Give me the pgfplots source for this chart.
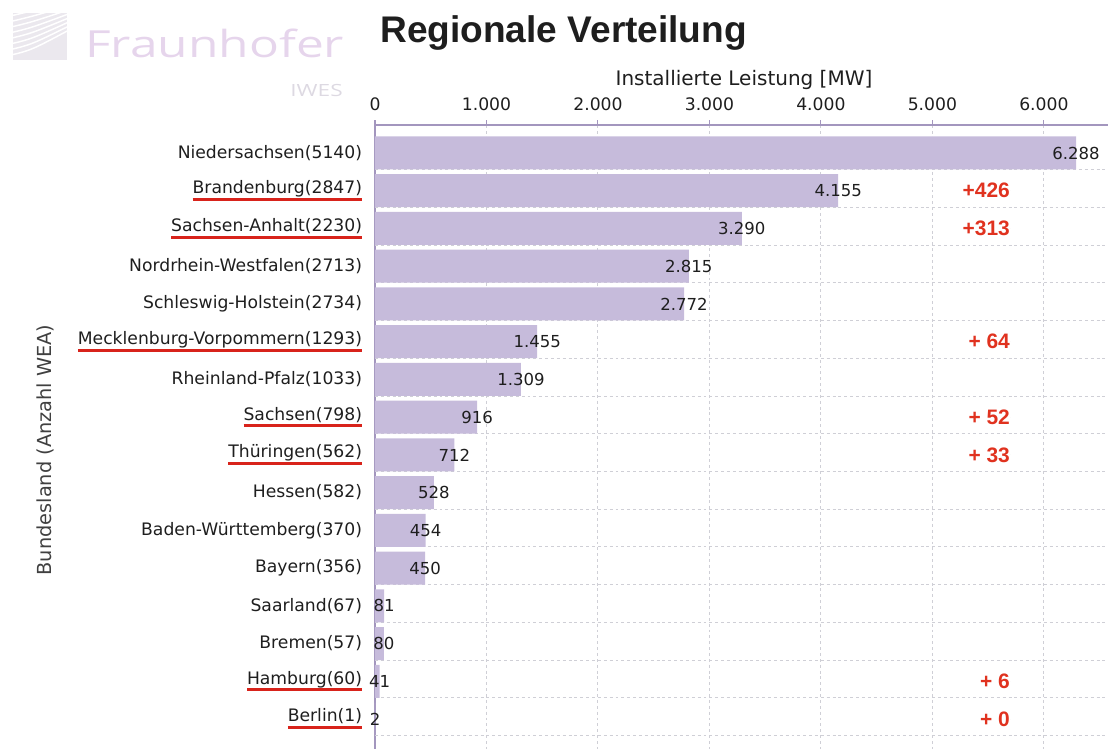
\documentclass[border=0pt]{standalone}
\usepackage{pgfplots}
\usepackage{pgfplotstable}
\pgfplotsset{compat=1.18}
\usepackage{fontspec}
\setmainfont{DejaVu Sans}
\newfontfamily\arial{Liberation Sans}
\newfontfamily\logofont{Open Sans}
\definecolor{barc}{HTML}{C6BBDB}
\definecolor{axc}{HTML}{A396BE}
\definecolor{gridc}{HTML}{CFCFD6}
\definecolor{txt}{HTML}{1E1E1E}
\definecolor{annred}{HTML}{E0321F}
\definecolor{ulred}{HTML}{D8231B}
\definecolor{logoc}{HTML}{E6D5EC}
\definecolor{logog}{HTML}{DDD9E2}
\pgfkeys{/pgf/number format/.cd, 1000 sep={.}, assume math mode=true}
\newsavebox\ulbox
\newcommand\rul[1]{\leavevmode\sbox\ulbox{#1}\rlap{\color{ulred}\rule[-5.4pt]{\wd\ulbox}{2.2pt}}\usebox\ulbox}
\newcommand\catfont{\fontsize{12.9}{14}\selectfont}
\newcommand\valfont{\fontsize{12.4}{14}\selectfont}
\newcommand\annfont{\arial\bfseries\fontsize{15.7}{17}\selectfont}
\pgfplotstableread{
idx val
0 6288
1 4155
2 3290
3 2815
4 2772
5 1455
6 1309
7 916
8 712
9 528
10 454
11 450
12 81
13 80
14 41
15 2
}\datatable
\begin{document}
\begin{tikzpicture}
\path[use as bounding box] (-281.25pt,0) rectangle (549.75pt,561.75pt);
\begin{axis}[
  at={(0,0)}, anchor=south west,
  width=549.75pt, height=468pt, scale only axis,
  xmin=0, xmax=6575, ymin=-0.742, ymax=15.795, y dir=reverse,
  axis x line*=top, axis y line*=left,
  x axis line style={draw=axc, line width=1pt},
  y axis line style={draw=axc, line width=1.6pt},
  xtick={0,1000,...,6000},
  xtick style={draw=axc, line width=0.8pt},
  tick align=outside, major tick length=3.5pt,
  xticklabel style={font=\catfont, text=txt, inner sep=0pt, anchor=south, yshift=7pt},
  ytick={0,...,15},
  ytick style={draw=none},
  yticklabel style={font=\catfont, text=txt, inner sep=0pt, anchor=east, xshift=-6pt},
  yticklabels={
    {Niedersachsen(5140)},
    {\rul{Brandenburg(2847)}},
    {\rul{Sachsen-Anhalt(2230)}},
    {Nordrhein-Westfalen(2713)},
    {Schleswig-Holstein(2734)},
    {\rul{Mecklenburg-Vorpommern(1293)}},
    {Rheinland-Pfalz(1033)},
    {\rul{Sachsen(798)}},
    {\rul{Thüringen(562)}},
    {Hessen(582)},
    {Baden-Württemberg(370)},
    {Bayern(356)},
    {Saarland(67)},
    {Bremen(57)},
    {\rul{Hamburg(60)}},
    {\rul{Berlin(1)}}
  },
  xmajorgrids,
  grid style={draw=gridc, line width=0.7pt, dash pattern=on 2.2pt off 2.2pt},
  extra y ticks={0.44,1.44,2.44,3.44,4.44,5.44,6.44,7.44,8.44,9.44,10.44,11.44,12.44,13.44,14.44,15.44},
  extra y tick labels={},
  extra y tick style={grid=major, major tick length=0pt},
  clip=false,
]
\addplot[xbar, bar width=24.75pt, fill=barc, draw=none] table[x=val, y=idx] {\datatable};
\addplot[only marks, mark=*, mark size=0pt, mark options={draw=none, fill=none},
  point meta=x,
  nodes near coords={\pgfmathprintnumber{\pgfplotspointmeta}},
  every node near coord/.style={anchor=center, inner sep=0pt, font=\valfont, text=txt}]
  table[x=val, y=idx] {\datatable};
\addplot[only marks, mark=*, mark size=0pt, mark options={draw=none, fill=none},
  point meta=explicit symbolic, nodes near coords,
  every node near coord/.style={anchor=east, inner sep=0pt, font=\annfont, text=annred}]
  coordinates {(5697,1) [+426] (5697,2) [+313] (5697,5) [+ 64] (5697,7) [+ 52] (5697,8) [+ 33] (5697,14) [+ 6] (5697,15) [+ 0]};
\end{axis}
% titles and labels
\node[anchor=west, inner sep=0pt, text=txt, font=\arial\bfseries\fontsize{27.8}{30}\selectfont] at (3.75pt,537pt) {Regionale Verteilung};
\node[inner sep=0pt, text=txt, font=\fontsize{15}{17}\selectfont] at (276.75pt,501.75pt) {Installierte Leistung [MW]};
\node[inner sep=0pt, rotate=90, text=txt!85, font=\fontsize{14.5}{16}\selectfont] at (-247.5pt,224.25pt) {Bundesland (Anzahl WEA)};
% faded logo
\node[anchor=base west, inner sep=0pt, xscale=1.33, text=logoc, font=\logofont\fontsize{28}{30}\selectfont] at (-217.5pt,518.25pt) {Fraunhofer};
\node[anchor=base west, inner sep=0pt, xscale=1.35, text=logog, font=\logofont\fontsize{12.6}{14}\selectfont] at (-63.75pt,489pt) {IWES};
\begin{scope}
\clip (-271.5pt,516.75pt) rectangle (-231pt,552pt);
\fill[logog!60] (-271.5pt,516.75pt) rectangle (-231pt,552pt);
\foreach \k in {0,...,9} {
  \draw[white, line width=1.1pt] (-275pt,520pt+\k*4.2pt) .. controls (-258pt,524pt+\k*4.2pt) .. (-228pt,540pt+\k*3pt);
}
\end{scope}
\end{tikzpicture}
\end{document}
